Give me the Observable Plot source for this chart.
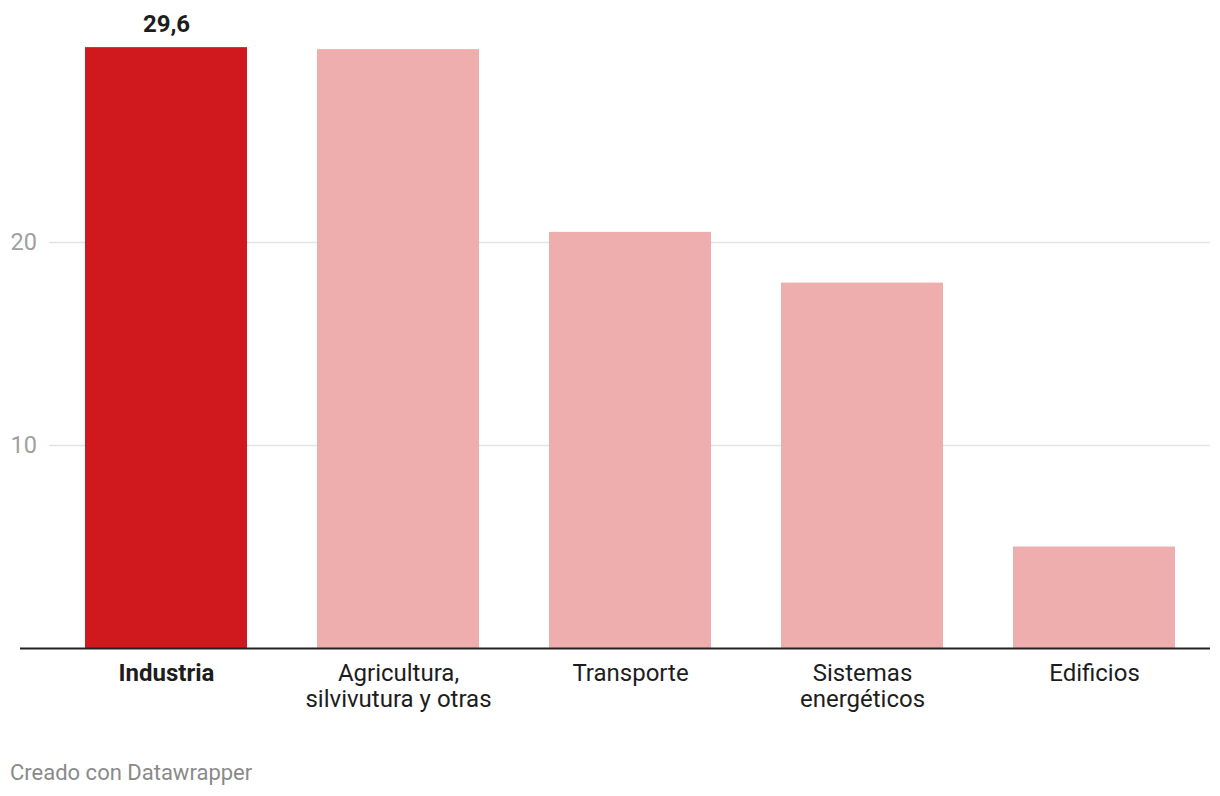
<!DOCTYPE html>
<html>
<head>
<meta charset="utf-8">
<script src="https://cdn.jsdelivr.net/npm/d3@7"></script>
<script src="https://cdn.jsdelivr.net/npm/@observablehq/plot@0.6"></script>
<style>
  html, body { margin: 0; padding: 0; background: #fff; }
  body { width: 1220px; height: 796px; font-family: Roboto, sans-serif; position: relative; overflow: hidden; }
  #chart { position: absolute; left: 0; top: 0; }
  #caption { position: absolute; left: 10px; top: 760px; font-size: 22px; line-height: 26px; color: #8a8a8a; font-family: Roboto, sans-serif; }
</style>
</head>
<body>
<div id="chart"></div>
<div id="caption">Creado con Datawrapper</div>
<script>
const categories = ["Industria", "Agricultura,\nsilvivutura y otras", "Transporte", "Sistemas\nenergéticos", "Edificios"];
const values = [29.6, 29.5, 20.5, 18.0, 5.0];
const highlighted = "Industria";
const yTicks = [10, 20];

const data = categories.map((c, i) => ({category: c, value: values[i]}));
const fmt = d3.formatLocale({decimal: ",", thousands: ".", grouping: [3], currency: ["", "€"]}).format(".1f");

const chart = Plot.plot({
  width: 1220,
  height: 730,
  marginTop: 39,
  marginLeft: 20,
  marginRight: 10,
  marginBottom: 82,
  style: {fontFamily: "Roboto, sans-serif", background: "#fff"},
  x: {domain: categories, range: [49.5, 1210], paddingInner: 0.3, paddingOuter: 0.15, axis: null},
  y: {domain: [0, 30], axis: null},
  marks: [
    Plot.ruleY(yTicks, {stroke: "#e3e3e3", strokeWidth: 1.5, insetLeft: 29}),
    Plot.text(yTicks, {y: d => d, text: d => String(d), frameAnchor: "left", textAnchor: "start", dx: -10, fontSize: 23.5, fill: "#a0a0a0"}),
    Plot.barY(data, {x: "category", y: "value", fill: d => d.category === highlighted ? "#d0191f" : "#eeaeae"}),
    Plot.ruleY([0], {stroke: "#222", strokeWidth: 2}),
    Plot.text(data.filter(d => d.category === highlighted), {x: "category", y: "value", text: d => fmt(d.value), lineAnchor: "bottom", dy: -16, fontSize: 24, fontWeight: "bold", fill: "#1d1d1d"}),
    Plot.text(data.filter(d => d.category === highlighted), {x: "category", y: 0, text: "category", lineAnchor: "top", dy: 13, fontSize: 24, fontWeight: "bold", fill: "#1d1d1d", lineHeight: 1.12}),
    Plot.text(data.filter(d => d.category !== highlighted), {x: "category", y: 0, text: "category", lineAnchor: "top", dy: 13, fontSize: 24, fill: "#1d1d1d", lineHeight: 1.12})
  ]
});
document.getElementById("chart").appendChild(chart);
</script>
</body>
</html>
